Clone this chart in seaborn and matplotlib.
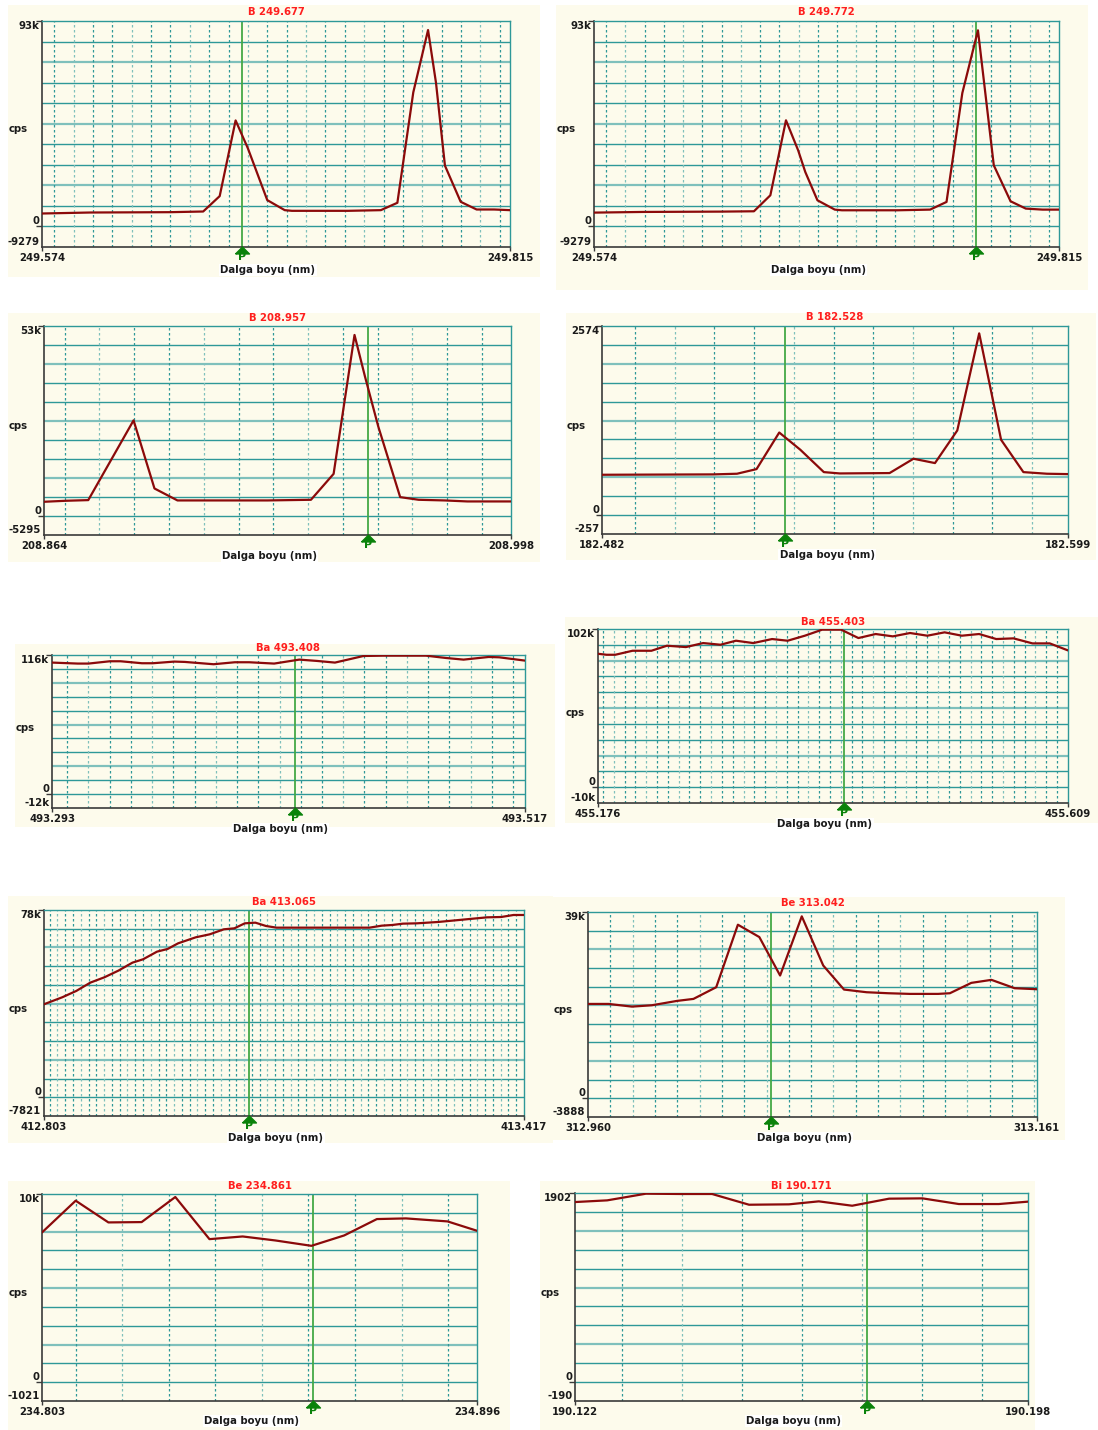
import numpy as np
import pandas as pd
import matplotlib
matplotlib.use("Agg")
import matplotlib.pyplot as plt
import matplotlib.transforms as mtrans
from matplotlib.patches import Rectangle
import seaborn as sns

# ---------------- data ----------------
titles = ["B 249.677", "B 249.772", "B 208.957", "B 182.528", "Ba 493.408",
          "Ba 455.403", "Ba 413.065", "Be 313.042", "Be 234.861", "Bi 190.171"]
peak_pos = [249.677, 249.772, 208.957, 182.528, 493.408,
            455.403, 413.065, 313.042, 234.861, 190.171]
x_range = [(249.574, 249.815), (249.574, 249.815), (208.864, 208.998), (182.482, 182.599),
           (493.293, 493.517), (455.176, 455.609), (412.803, 413.417), (312.960, 313.161),
           (234.803, 234.896), (190.122, 190.198)]
y_range = [(-9279, 92790), (-9279, 92790), (-5295, 52950), (-257.4, 2574),
           (-11600, 116000), (-10200, 102000), (-7821, 78210), (-3888, 38880),
           (-1021, 10210), (-190.2, 1902)]
y_top_labels = ["93k", "93k", "53k", "2574", "116k", "102k", "78k", "39k", "10k", "1902"]
y_bottom_labels = ["-9279", "-9279", "-5295", "-257", "-12k", "-10k", "-7821", "-3888", "-1021", "-190"]
x_tick_labels = [("249.574", "249.815"), ("249.574", "249.815"), ("208.864", "208.998"),
                 ("182.482", "182.599"), ("493.293", "493.517"), ("455.176", "455.609"),
                 ("412.803", "413.417"), ("312.960", "313.161"), ("234.803", "234.896"),
                 ("190.122", "190.198")]

x_b249677 = [249.574, 249.599, 249.640, 249.657, 249.6655, 249.6737, 249.680, 249.690, 249.699,
             249.7027, 249.7316, 249.7485, 249.757, 249.7652, 249.7728, 249.7769, 249.7815,
             249.7896, 249.7978, 249.8068, 249.815]
y_b249677 = [5850, 6300, 6450, 6750, 13700, 47880, 35330, 11900, 7360, 7060, 7060, 7360,
             10690, 60580, 88700, 64820, 27470, 11140, 7660, 7660, 7360]

x_b249772 = [249.574, 249.5993, 249.6400, 249.6569, 249.6654, 249.6735, 249.6798, 249.6835,
             249.6898, 249.6988, 249.7025, 249.7314, 249.7482, 249.7567, 249.7649, 249.7730,
             249.7812, 249.7899, 249.7978, 249.8065, 249.815]
y_b249772 = [6252, 6553, 6704, 6854, 14079, 47940, 34395, 24613, 11821, 7607, 7306, 7306,
             7607, 11069, 60282, 88576, 27623, 11370, 8059, 7607, 7607]

x_b208957 = [208.864, 208.8702, 208.8767, 208.8897, 208.8957, 208.9023, 208.9281, 208.9406,
             208.9471, 208.9531, 208.9561, 208.9599, 208.9662, 208.9715, 208.9790, 208.9855, 208.998]
y_b208957 = [3965, 4242, 4428, 26652, 7669, 4335, 4335, 4520, 11743, 50450, 38875, 24985,
             5261, 4520, 4335, 4057, 4057]

x_b182528 = [182.482, 182.5099, 182.5159, 182.5208, 182.5265, 182.5318, 182.5377, 182.5417,
             182.5542, 182.5602, 182.5656, 182.5712, 182.5767, 182.5822, 182.5878, 182.5937, 182.599]
y_b182528 = [549, 554, 563, 626, 1124, 889, 585, 567, 572, 767, 708, 1152, 2474, 1025, 585, 563, 558]

x_ba493408 = [493.293, 493.3052, 493.3103, 493.3204, 493.3255, 493.3356, 493.3407, 493.3509,
              493.3559, 493.3695, 493.3796, 493.3864, 493.3982, 493.4101, 493.4185, 493.4270,
              493.4405, 493.4498, 493.4701, 493.4795, 493.4879, 493.4998, 493.5048, 493.517]
y_ba493408 = [109675, 108850, 108850, 110775, 110775, 109125, 109125, 110500, 110225, 108300,
              109950, 109950, 108850, 112150, 111050, 109675, 115175, 115450, 115450, 113525,
              112150, 114350, 114075, 111325]

x_ba455403 = [455.176, 455.1839, 455.1919, 455.2078, 455.2252, 455.2395, 455.2570, 455.2729,
              455.2888, 455.3031, 455.3190, 455.3364, 455.3507, 455.3666, 455.3825, 455.4000,
              455.4159, 455.4318, 455.4476, 455.4635, 455.4794, 455.4953, 455.5112, 455.5271,
              455.5429, 455.5588, 455.5763, 455.5922, 455.609]
y_ba455403 = [86031, 85383, 85383, 87973, 87973, 91210, 90347, 92936, 91857, 94447, 92936,
              95526, 94447, 97684, 101568, 101568, 96173, 98763, 97252, 99410, 97684, 99842,
              97684, 98763, 95526, 95958, 92721, 92721, 88189]

x_ba413065 = [412.803, 412.8264, 412.8443, 412.8623, 412.8803, 412.8982, 412.9162, 412.9297,
              412.9476, 412.9611, 412.9746, 412.9971, 413.0150, 413.0330, 413.0465, 413.0599,
              413.0734, 413.0869, 413.1004, 413.2194, 413.2351, 413.2486, 413.2621, 413.2801,
              413.3070, 413.3250, 413.3474, 413.3699, 413.3879, 413.4036, 413.417]
y_ba413065 = [38845, 41766, 44409, 47886, 50112, 52894, 56232, 57623, 60823, 61935, 64300,
              66804, 68056, 70142, 70560, 72646, 72924, 71533, 70838, 70838, 71672, 71950,
              72507, 72646, 73202, 73759, 74454, 75150, 75289, 76124, 76124]

x_be313042 = [312.960, 312.9692, 312.9797, 312.9886, 312.9998, 313.0072, 313.0174, 313.0271,
              313.0367, 313.0460, 313.0557, 313.0653, 313.0746, 313.0847, 313.0944, 313.1041,
              313.1167, 313.1220, 313.1316, 313.1406, 313.1510, 313.161]
y_be313042 = [19701, 19701, 19143, 19422, 20329, 20748, 23189, 36230, 33650, 25629, 37973,
              27722, 22700, 22142, 21933, 21794, 21794, 21933, 24095, 24723, 22980, 22770]

x_be234861 = [234.803, 234.8102, 234.8172, 234.8243, 234.8315, 234.8388, 234.8459, 234.8529,
              234.8606, 234.8676, 234.8746, 234.8808, 234.8897, 234.896]
y_be234861 = [8124, 9847, 8668, 8686, 10047, 7761, 7906, 7689, 7398, 7961, 8850, 8886, 8723, 8215]

x_bi190171 = [190.122, 190.1274, 190.1339, 190.1397, 190.1450, 190.1512, 190.1579, 190.1629,
              190.1685, 190.1747, 190.1803, 190.1864, 190.1931, 190.198]
y_bi190171 = [1811, 1828, 1895, 1892, 1892, 1784, 1788, 1818, 1774, 1845, 1848, 1791, 1791, 1815]

series_x = [x_b249677, x_b249772, x_b208957, x_b182528, x_ba493408,
            x_ba455403, x_ba413065, x_be313042, x_be234861, x_bi190171]
series_y = [y_b249677, y_b249772, y_b208957, y_b182528, y_ba493408,
            y_ba455403, y_ba413065, y_be313042, y_be234861, y_bi190171]

# ---------------- layout / style (pixels in a 1098x1430 canvas) ----------------
W, H = 1098, 1430
# axes boxes: left, top, right, bottom
ax_boxes = [(42, 21, 510, 247), (594, 21, 1059, 247), (44, 326, 511, 535), (602, 326, 1068, 534),
            (52, 655, 525, 808), (598, 629, 1068, 803), (44, 910, 524, 1116), (588, 912, 1037, 1117),
            (42, 1194, 477, 1401), (575, 1193, 1028, 1401)]
bg_boxes = [(8, 5, 540, 277), (556, 5, 1088, 290), (8, 313, 540, 562), (566, 313, 1096, 560),
            (15, 644, 555, 827), (565, 617, 1098, 823), (8, 896, 553, 1143), (553, 897, 1065, 1140),
            (8, 1181, 510, 1430), (540, 1181, 1035, 1430)]
title_y = [12, 12, 318, 317, 648, 622, 902, 903, 1186, 1186]
dalga_dy = [23, 23, 21, 21, 21, 21, 22, 21, 20, 20]
# vertical dotted grid: first fraction, step fraction, count
vgrid = [(0.026, 0.0414, 24), (0.026, 0.0414, 24), (0.044, 0.0745, 13), (0.071, 0.0852, 11),
         (0.032, 0.0449, 22), (0.0106, 0.0230, 43), (0.0118, 0.0162, 61), (0.0497, 0.0497, 20),
         (0.0775, 0.107, 9), (0.103, 0.1325, 7)]

CREAM = "#fdfbec"
TEAL = "#2e9898"
TEAL_LIGHT = "#7fc0bc"
LINE = "#8b0a0a"
GREEN_LINE = "#45a845"
GREEN_MARK = "#0a820a"
TXT = "#1a1a1a"
FS = 7.3
TRI = [(-1.0, -0.5), (1.0, -0.5), (0.0, 0.5), (-1.0, -0.5)]

sns.set_theme(style="white")
plt.rcParams["font.family"] = ["DejaVu Sans"]

fig = plt.figure(figsize=(W / 100, H / 100), dpi=100, facecolor="white")

for i in range(len(titles)):
    bl, bt, br, bb = bg_boxes[i]
    fig.add_artist(Rectangle((bl / W, 1 - bb / H), (br - bl) / W, (bb - bt) / H,
                             transform=fig.transFigure, facecolor=CREAM, edgecolor="none",
                             zorder=-3))
    al, at, ar, ab = ax_boxes[i]
    ax = fig.add_axes([al / W, 1 - ab / H, (ar - al) / W, (ab - at) / H])
    ax.set_zorder(1)
    ax.set_facecolor(CREAM)
    xmin, xmax = x_range[i]
    ymin, ymax = y_range[i]

    step = (ymax - ymin) / 11
    for k in range(1, 11):
        ax.axhline(ymin + k * step, color=TEAL if k % 3 != 0 else TEAL_LIGHT,
                   lw=1.0 if k % 3 != 0 else 1.6, zorder=1)
    f0, fs, n = vgrid[i]
    for k in range(n):
        ax.axvline(xmin + (f0 + k * fs) * (xmax - xmin),
                   color=TEAL if k % 3 != 1 else TEAL_LIGHT, lw=0.9,
                   ls=(0, (2, 2)), zorder=1)

    ax.axvline(peak_pos[i], color=GREEN_LINE, lw=1.3, zorder=2)

    df = pd.DataFrame({"wavelength": series_x[i], "cps": series_y[i]})
    sns.lineplot(data=df, x="wavelength", y="cps", ax=ax, color=LINE, lw=1.6, zorder=3)
    ax.set_xlim(xmin, xmax)
    ax.set_ylim(ymin, ymax)
    ax.set_xlabel("")
    ax.set_ylabel("")

    # spines
    for s in ["left", "bottom"]:
        ax.spines[s].set_color("#3a3a3a")
        ax.spines[s].set_linewidth(1.2)
    for s in ["top", "right"]:
        ax.spines[s].set_color(TEAL)
        ax.spines[s].set_linewidth(1.0)

    # ticks
    ax.set_yticks([0, ymax])
    ax.set_yticklabels(["", ""])
    ax.set_xticks([xmin, xmax])
    ax.set_xticklabels(list(x_tick_labels[i]), fontsize=FS, fontweight="bold", color=TXT)
    ax.tick_params(axis="y", direction="out", length=4, width=1, color="#3a3a3a", left=True)
    ax.tick_params(axis="x", direction="out", length=3, width=1, color="#3a3a3a", bottom=True, pad=1)

    ytr = ax.get_yaxis_transform()
    ax.text(-0.006, ymax, y_top_labels[i], transform=ytr, ha="right", va="top",
            fontsize=FS, fontweight="bold", color=TXT)
    ax.text(-0.006, 0, "0", transform=ytr, ha="right", va="bottom",
            fontsize=FS, fontweight="bold", color=TXT)
    ax.text(-0.006, ymin, y_bottom_labels[i], transform=ytr, ha="right", va="bottom",
            fontsize=FS, fontweight="bold", color=TXT)

    # P marker
    hpx = ab - at
    trans = mtrans.blended_transform_factory(ax.transData, ax.transAxes)
    ax.plot([peak_pos[i]], [-3.0 / hpx], transform=trans, marker=TRI, ms=10,
            color=GREEN_MARK, mec=GREEN_MARK, clip_on=False, zorder=6)
    ax.text(peak_pos[i], -10.0 / hpx, "P", transform=trans, ha="center", va="center",
            color=GREEN_MARK, fontsize=8, fontweight="bold", clip_on=False, zorder=7)

    # texts
    fig.text((al + ar) / 2 / W, 1 - title_y[i] / H, titles[i], ha="center", va="center",
             color="#ff1e1e", fontsize=FS, fontweight="bold", zorder=5)
    fig.text((bl + 1) / W, 1 - (at + 0.48 * (ab - at)) / H, "cps", ha="left", va="center",
             fontsize=FS, fontweight="bold", color=TXT, zorder=5)
    fig.text(((al + ar) / 2 - 8) / W, 1 - (ab + dalga_dy[i]) / H, "Dalga boyu (nm)",
             ha="center", va="center", fontsize=FS, fontweight="bold", color=TXT,
             bbox=dict(facecolor="white", edgecolor="none", pad=1.0), zorder=-1)

fig.savefig("out.png", dpi=100, facecolor="white")
